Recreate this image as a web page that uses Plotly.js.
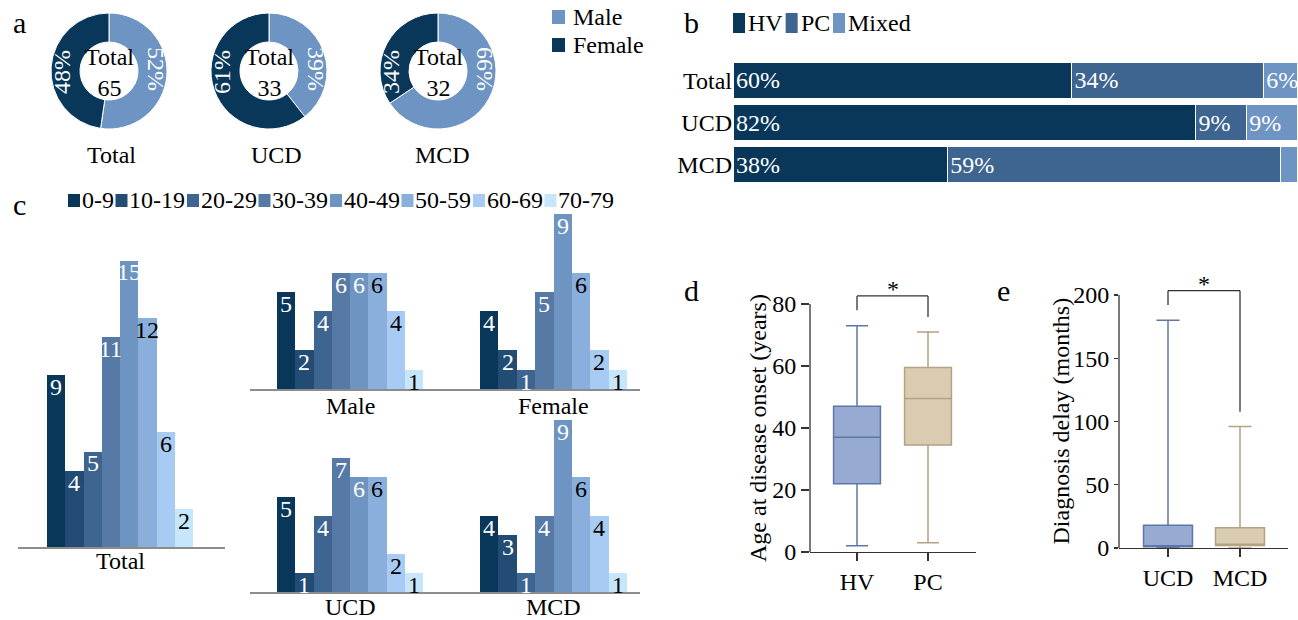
<!DOCTYPE html>
<html><head><meta charset="utf-8">
<script src="https://cdn.plot.ly/plotly-3.0.1.min.js"></script>
<style>html,body{margin:0;padding:0;background:#fff}</style>
</head><body><div id="chart" style="width:1298px;height:620px"></div>
<script>
// ---------- Panel a: sex distribution ----------
const sexLabels = ['Male', 'Female'];
const donutGroups = ['Total', 'UCD', 'MCD'];
const donutTotals = [65, 33, 32];
const maleCounts = [34, 13, 21];
const femaleCounts = [31, 20, 11];

// ---------- Panel b: histological type (%) ----------
const typeGroups = ['Total', 'UCD', 'MCD'];
const typeLabels = ['HV', 'PC', 'Mixed'];
const hvPct = [60, 82, 38];
const pcPct = [34, 9, 59];
const mixedPct = [6, 9, 3];

// ---------- Panel c: age groups ----------
const ageGroups = ['0-9', '10-19', '20-29', '30-39', '40-49', '50-59', '60-69', '70-79'];
const ageTotal = [9, 4, 5, 11, 15, 12, 6, 2];
const ageMale = [5, 2, 4, 6, 6, 6, 4, 1];
const ageFemale = [4, 2, 1, 5, 9, 6, 2, 1];
const ageUCD = [5, 1, 4, 7, 6, 6, 2, 1];
const ageMCD = [4, 3, 1, 4, 9, 6, 4, 1];

// ---------- Panel d: age at onset (years) ----------
const onsetGroups = ['HV', 'PC'];
const onsetMin = [2, 3];
const onsetQ1 = [22, 34.5];
const onsetMedian = [37, 49.5];
const onsetQ3 = [47, 59.5];
const onsetMax = [73, 71];
const onsetBracket = [78, 82.6, 75.8];

// ---------- Panel e: diagnosis delay (months) ----------
const delayGroups = ['UCD', 'MCD'];
const delayMin = [0, 0];
const delayQ1 = [1, 2];
const delayMedian = [1, 3];
const delayQ3 = [18, 16];
const delayMax = [180, 96];
const delayBracket = [192, 203.4, 107.7];

// ---------- styling ----------
const FONT = 'Liberation Serif, Times New Roman, serif';
const W = 1298, H = 620;
const X = p => p / W, Y = p => 1 - p / H;
const C_NAVY = '#08375a', C_MID = '#3e6490', C_LIGHT = '#6d94c2';
const sexColors = [C_LIGHT, C_NAVY];
const typeColors = [C_NAVY, C_MID, C_LIGHT];
const ageColors = ['#08375a', '#234c75', '#3e6490', '#5679a6', '#6e94c2', '#8aafdc', '#a7cbf3', '#c6e6fc'];
const ageTextColors = ageColors.map((c, i) => i < 5 ? '#ffffff' : '#000000');

const ctx = document.createElement('canvas').getContext('2d');
ctx.font = '24px "Liberation Serif"';
const tw = s => ctx.measureText(s).width;

const traces = [];
const annotations = [];
const shapes = [];
const layout = {
  width: W, height: H, margin: {l: 0, r: 0, t: 0, b: 0},
  paper_bgcolor: '#fff', plot_bgcolor: 'rgba(0,0,0,0)',
  font: {family: FONT, size: 24, color: '#000'},
  barmode: 'stack', bargap: 0, showlegend: false,
  annotations: annotations, shapes: shapes
};

function txt(x, y, text, opts) {
  annotations.push(Object.assign({xref: 'paper', yref: 'paper', x: X(x), y: Y(y), text: text,
    showarrow: false, xanchor: 'center', yanchor: 'middle', font: {family: FONT, size: 24, color: '#000'}}, opts || {}));
}
function rect(x0, y0, x1, y1, color) {
  shapes.push({type: 'rect', xref: 'paper', yref: 'paper', x0: X(x0), x1: X(x1), y0: Y(y1), y1: Y(y0),
    fillcolor: color, line: {width: 0}});
}

// panel letters
txt(11, 22, 'a', {xanchor: 'left', font: {family: FONT, size: 30}});
txt(682, 22, 'b', {xanchor: 'left', font: {family: FONT, size: 30}});
txt(11, 205, 'c', {xanchor: 'left', font: {family: FONT, size: 30}});
txt(682, 290, 'd', {xanchor: 'left', font: {family: FONT, size: 30}});
txt(995, 290, 'e', {xanchor: 'left', font: {family: FONT, size: 30}});

// ---------- Panel a ----------
const donutCenters = [[109, 71], [269, 71], [438, 71]];
const donutLabelX = [111, 276, 442];
const R = 58, ringMid = 47;
donutGroups.forEach((g, i) => {
  const [cx, cy] = donutCenters[i];
  const vals = [maleCounts[i], femaleCounts[i]];
  const tot = vals[0] + vals[1];
  traces.push({
    type: 'pie', values: vals, labels: sexLabels,
    sort: false, direction: 'clockwise', rotation: 0, hole: 0.5,
    domain: {x: [X(cx - R), X(cx + R)], y: [Y(cy + R), Y(cy - R)]},
    marker: {colors: sexColors, line: {color: '#ffffff', width: 1}},
    textinfo: 'none', showlegend: false, hoverinfo: 'label+value+percent'
  });
  // percentage labels on the ring (male on the right, female on the left)
  txt(cx + ringMid, cy - 2, Math.round(100 * vals[0] / tot) + '%', {textangle: 90, font: {family: FONT, size: 24, color: '#fff'}});
  txt(cx - ringMid, cy + 1, Math.round(100 * vals[1] / tot) + '%', {textangle: -90, font: {family: FONT, size: 24, color: '#fff'}});
  // centre text
  txt(cx, cy + 2, 'Total<br>' + donutTotals[i], {font: {family: FONT, size: 24, color: '#000'}});
  txt(donutLabelX[i], 155, g);
});
sexLabels.forEach((s, k) => {
  const cy = 17 + k * 28;
  rect(552, cy - 7, 565, cy + 7, sexColors[k]);
  txt(571, cy, s, {xanchor: 'left'});
});

// ---------- Panel b ----------
const typeVals = [hvPct, pcPct, mixedPct];
typeLabels.forEach((t, k) => {
  traces.push({
    type: 'bar', orientation: 'h', x: typeVals[k], y: typeGroups, name: t,
    xaxis: 'x', yaxis: 'y', width: 0.85,
    marker: {color: typeColors[k], line: {color: '#ffffff', width: 1}},
    text: typeVals[k].map(v => v >= 5 ? v + '%' : ''),
    textposition: 'inside', insidetextanchor: 'start', constraintext: 'none', textangle: 0,
    textfont: {family: FONT, size: 24, color: '#ffffff'},
    showlegend: false, hoverinfo: 'x+y'
  });
});
layout.xaxis = {domain: [X(733), X(1297)], range: [0, 100], visible: false, anchor: 'y', fixedrange: true};
layout.yaxis = {domain: [Y(186), Y(59)], type: 'category', range: [2.5, -0.5], anchor: 'x',
  showline: false, showgrid: false, zeroline: false, ticks: '', tickfont: {family: FONT, size: 24, color: '#000'}};
{
  let lx = 733;
  typeLabels.forEach((t, k) => {
    rect(lx, 13, lx + 12, 33, typeColors[k]);
    txt(lx + 13, 23, t, {xanchor: 'left'});
    lx += 13 + tw(t) + 5;
  });
}

// ---------- Panel c ----------
const ageSets = [
  {name: 'Total', vals: ageTotal, xd: [18, 225], bars: [47, 193], base: 547, top: 238, scale: 19.1, ly: 561},
  {name: 'Male', vals: ageMale, xd: [250, 452], bars: [277, 423], base: 389, top: 200, scale: 19.4, ly: 406},
  {name: 'Female', vals: ageFemale, xd: [452, 640], bars: [480, 627], base: 389, top: 200, scale: 19.4, ly: 406},
  {name: 'UCD', vals: ageUCD, xd: [250, 452], bars: [277, 423], base: 592, top: 405, scale: 19.1, ly: 607},
  {name: 'MCD', vals: ageMCD, xd: [452, 640], bars: [480, 627], base: 592, top: 405, scale: 19.1, ly: 607}
];
ageSets.forEach((s, j) => {
  const n = j + 2;
  const unit = (s.bars[1] - s.bars[0]) / ageGroups.length;
  traces.push({
    type: 'bar', x: ageGroups, y: s.vals, xaxis: 'x' + n, yaxis: 'y' + n, width: 1,
    marker: {color: ageColors, line: {width: 0}},
    showlegend: false, hoverinfo: 'x+y'
  });
  // value labels just inside the top of each bar
  ageGroups.forEach((g, i) => {
    annotations.push({xref: 'x' + n, yref: 'y' + n, x: g, y: s.vals[i], text: String(s.vals[i]),
      showarrow: false, xanchor: 'center', yanchor: 'top', yshift: 3,
      font: {family: FONT, size: 24, color: ageTextColors[i]}});
  });
  layout['xaxis' + n] = {domain: [X(s.xd[0]), X(s.xd[1])], type: 'category', anchor: 'y' + n,
    range: [-0.5 - (s.bars[0] - s.xd[0]) / unit, ageGroups.length - 0.5 + (s.xd[1] - s.bars[1]) / unit],
    showline: true, linecolor: '#8c8c8c', linewidth: 1.5, ticks: '', showticklabels: false, showgrid: false, zeroline: false};
  layout['yaxis' + n] = {domain: [Y(s.base), Y(s.top)], range: [0, (s.base - s.top) / s.scale], anchor: 'x' + n,
    visible: false};
  txt((s.bars[0] + s.bars[1]) / 2, s.ly, s.name);
});
{
  let lx = 68;
  ageGroups.forEach((g, k) => {
    rect(lx, 194, lx + 12, 207, ageColors[k]);
    txt(lx + 12, 200, g, {xanchor: 'left'});
    lx += 14 + tw(g) + 1.5;
  });
}

// ---------- Panel d & e: box plots ----------
function boxPanel(n, groups, mn, q1, med, q3, mx, xd, yBase, pxPerUnit, yTop, ticks, axisTop, bracket, title, titleX, boxW, tlen) {
  const fills = ['#96aad2', '#d9ccb1'];
  const lines = ['#5f77a6', '#b3a283'];
  groups.forEach((g, i) => {
    traces.push({type: 'box', x: [g], q1: [q1[i]], median: [med[i]], q3: [q3[i]],
      lowerfence: [mn[i]], upperfence: [mx[i]], xaxis: 'x' + n, yaxis: 'y' + n,
      width: boxW, whiskerwidth: 0.47, fillcolor: fills[i], line: {color: lines[i], width: 1.5},
      boxpoints: false, showlegend: false, hoverinfo: 'y'});
  });
  layout['xaxis' + n] = {domain: [X(xd[0]), X(xd[1])], type: 'category', anchor: 'y' + n,
    range: [-(xd[2] - xd[0]) / (xd[3] - xd[2]), (xd[1] - xd[2]) / (xd[3] - xd[2])],
    showline: true, linecolor: '#333', linewidth: 1.3, ticks: 'outside', ticklen: 8, tickcolor: '#333', tickwidth: 1.3,
    showgrid: false, zeroline: false, tickfont: {family: FONT, size: 24, color: '#000'}};
  layout['yaxis' + n] = {domain: [Y(yBase), Y(yBase - yTop * pxPerUnit)], range: [0, yTop], anchor: 'x' + n,
    tickvals: ticks, ticks: 'outside', ticklen: tlen, tickcolor: '#333', tickwidth: 1.3, showline: false,
    showgrid: false, zeroline: false, tickfont: {family: FONT, size: 24, color: '#000'}};
  shapes.push({type: 'line', xref: 'x' + n + ' domain', yref: 'y' + n, x0: 0, x1: 0, y0: 0, y1: axisTop,
    line: {color: '#333', width: 1.3}});
  const lc = {color: '#333', width: 1.3};
  shapes.push({type: 'line', xref: 'x' + n, yref: 'y' + n, x0: groups[0], x1: groups[0], y0: bracket[0], y1: bracket[1], line: lc});
  shapes.push({type: 'line', xref: 'x' + n, yref: 'y' + n, x0: groups[0], x1: groups[1], y0: bracket[1], y1: bracket[1], line: lc});
  shapes.push({type: 'line', xref: 'x' + n, yref: 'y' + n, x0: groups[1], x1: groups[1], y0: bracket[1], y1: bracket[2], line: lc});
  annotations.push({xref: 'x' + n, yref: 'y' + n, x: 0.5, y: bracket[1], text: '*', showarrow: false,
    yanchor: 'bottom', yshift: -8, font: {family: FONT, size: 24, color: '#000'}});
  annotations.push({xref: 'paper', yref: 'paper', x: X(titleX), y: Y(yBase - axisTop * pxPerUnit / 2), text: title,
    textangle: -90, showarrow: false, xanchor: 'center', yanchor: 'middle', font: {family: FONT, size: 24, color: '#000'}});
}
boxPanel(7, onsetGroups, onsetMin, onsetQ1, onsetMedian, onsetQ3, onsetMax,
  [810, 976, 857, 928], 552, 3.1, 90, [0, 20, 40, 60, 80], 80, onsetBracket, 'Age at disease onset (years)', 758, 0.66, 8);
boxPanel(8, delayGroups, delayMin, delayQ1, delayMedian, delayQ3, delayMax,
  [1119, 1288, 1168, 1240], 548, 1.265, 220, [0, 50, 100, 150, 200], 200, delayBracket, 'Diagnosis delay (months)', 1060, 0.68, 4);

Plotly.newPlot('chart', traces, layout, {staticPlot: true, displayModeBar: false});
</script></body></html>
